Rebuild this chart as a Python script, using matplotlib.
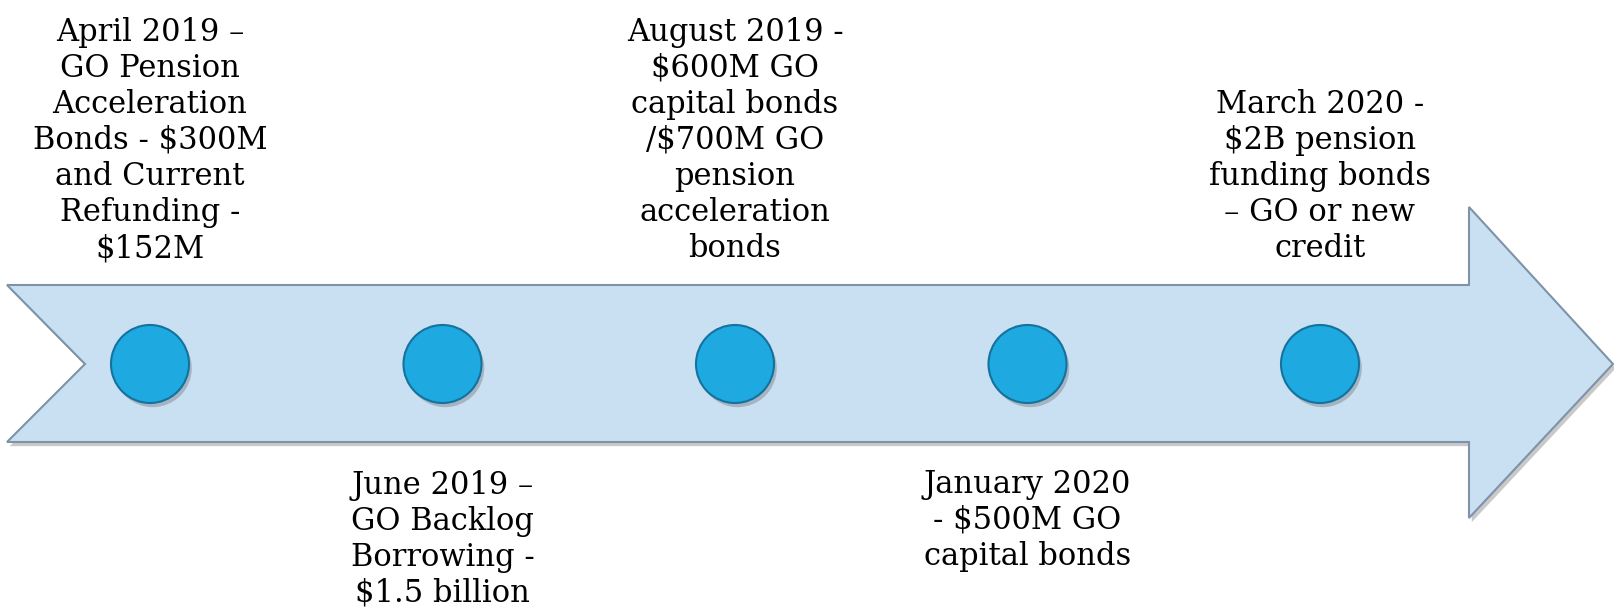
import numpy as np
import matplotlib
matplotlib.use('Agg')
import matplotlib.pyplot as plt
from matplotlib.patches import Polygon, Circle
import matplotlib.patheffects as pe

# 时间轴上的事件，按时间顺序排列；偶数项写在箭头上方，奇数项写在下方
events = [
    "April 2019 –\nGO Pension\nAcceleration\nBonds - $300M\nand Current\nRefunding -\n$152M",
    "June 2019 –\nGO Backlog\nBorrowing -\n$1.5 billion",
    "August 2019 -\n$600M GO\ncapital bonds\n/$700M GO\npension\nacceleration\nbonds",
    "January 2020\n- $500M GO\ncapital bonds",
    "March 2020 -\n$2B pension\nfunding bonds\n– GO or new\ncredit",
]

W, H = 1614, 610
fig = plt.figure(figsize=(W / 100, H / 100), dpi=100)
ax = fig.add_axes([0, 0, 1, 1])
ax.set_xlim(0, W)
ax.set_ylim(H, 0)
ax.axis('off')

shadow = [pe.SimplePatchShadow(offset=(2, -3), shadow_rgbFace='#666666', alpha=0.35), pe.Normal()]

# 大箭头：左边带燕尾缺口，右边是箭头
top, bot, mid = 285, 442, 364
arrow = Polygon([(7, top), (1469, top), (1469, 207), (1613, mid), (1469, 518),
                 (1469, bot), (7, bot), (85, mid)],
                closed=True, facecolor='#c9dff2', edgecolor='#7f93a8', lw=1.5, zorder=1)
arrow.set_path_effects(shadow)
ax.add_patch(arrow)

# 圆点等距排列；文字以最后一行基线定位
pitch = 37.3
xs = np.linspace(150, 1320, len(events))
for i, (x, txt) in enumerate(zip(xs, events)):
    c = Circle((x, mid), 39, facecolor='#1eaae1', edgecolor='#14729e', lw=1.5, zorder=2)
    c.set_path_effects(shadow)
    ax.add_patch(c)
    n = txt.count('\n')
    if i % 2 == 0:
        y_last = 257
    else:
        y_last = 490 + n * pitch
    ax.text(x, y_last, txt, ha='center', va='baseline', multialignment='center',
            fontsize=22, family='DejaVu Serif', linespacing=1.21, color='black', zorder=3)

fig.savefig('out.png', dpi=100)
